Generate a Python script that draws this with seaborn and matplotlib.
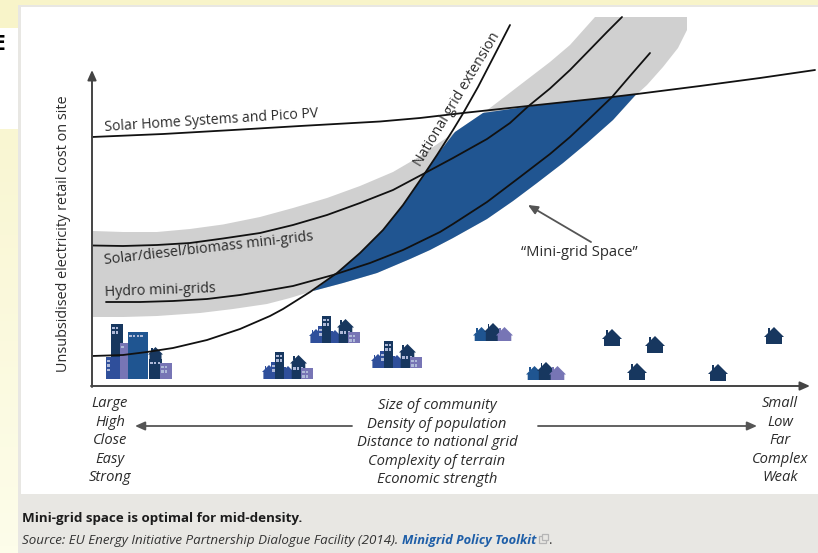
# -*- coding: utf-8 -*-
"""Mini-grid space diagram, all curves read off the picture in pixel units."""

import numpy as np
import pandas as pd
import matplotlib.pyplot as plt
from matplotlib.patches import Polygon, Rectangle
import seaborn as sns

# curves (x, y)
solar_home_x = [92, 163, 233, 300, 380, 420, 463, 528, 570, 612, 637, 700, 760, 815]
solar_home_y = [137, 134, 130, 126, 121.5, 118, 113, 106, 101.5, 97, 94, 86, 78, 70]

diesel_x = [93, 123, 157, 190, 223, 260, 293, 327, 360, 393, 425, 453, 487, 510, 528, 550, 570, 590, 607, 622]
diesel_y = [245.5, 246, 245, 243, 238.5, 233, 225, 215, 203, 190, 173, 158, 139, 123, 106.5, 88.5, 70, 49.5, 32, 17]

hydro_x = [106, 140, 173, 207, 240, 270, 293, 333, 370, 403, 440, 453, 487, 520, 550, 570, 587, 612, 630, 650]
hydro_y = [302, 302, 301, 299, 295, 290, 286, 275, 263, 250, 232, 224, 202, 177, 154, 137, 121, 97, 76, 53]

grid_x = [92, 123, 147, 173, 207, 240, 270, 283, 310, 337, 360, 383, 403, 423, 437, 453, 463, 478, 493, 510]
grid_y = [356, 355, 352, 348, 340, 329, 316, 309, 292, 273, 253, 230, 205, 176, 155, 130, 113.5, 87, 58, 25]

band_x = [93, 123, 157, 190, 223, 260, 293, 327, 360, 393, 417, 455, 483, 490, 520, 550, 570, 595, 687,
          687, 678, 663, 647, 636, 613, 587, 563, 537, 513, 487, 453, 430, 410, 377, 343, 313,
          290, 267, 233, 200, 157, 123, 93]
band_y = [231, 232, 232, 229, 224.5, 217, 208, 198, 186, 172, 158, 132, 113, 108, 85, 62, 45, 17, 17,
          30, 48, 67, 85, 95, 120, 143, 163, 183, 201, 219, 238, 250, 259, 273, 283, 291,
          298, 304, 309, 313, 316, 317, 317]

space_x = [313, 337, 360, 383, 403, 423, 437, 455, 483, 528, 570, 612, 636,
           613, 587, 563, 537, 513, 487, 453, 430, 410, 377, 343]
space_y = [291, 273, 253, 230, 205, 176, 155, 132, 113, 106.5, 101.5, 97, 94.5,
           120, 143, 163, 183, 201, 219, 238, 250, 259, 273, 283]

# axis captions
left_words = ["Large", "High", "Close", "Easy", "Strong"]
middle_words = ["Size of community", "Density of population", "Distance to national grid",
                "Complexity of terrain", "Economic strength"]
right_words = ["Small", "Low", "Far", "Complex", "Weak"]
left_rows = [407, 426, 444, 463, 481]
middle_rows = [409, 428, 446, 465, 483]

# settlements: anchor x, baseline y
single_x = [602, 645, 627, 708, 764]
single_base = [346, 353, 380, 381, 344]
hamlet_x = [473, 526]
hamlet_base = [341, 380]
town_x = [262, 309, 371]
town_base = [379, 343, 368]

NAVY = "#17375f"
BLUE = "#1f5591"
ROYAL = "#2f4f9b"
LILAC = "#7775b5"
TEXT = "#2b2b2b"
WINDOW = "#aeb9d8"


def house(ax, x, base, w, h, color, z=5):
    eave = base - h + w * 0.5
    ax.add_patch(Polygon([(x + w * 0.1, base), (x + w * 0.1, eave), (x, eave),
                          (x + w * 0.5, base - h), (x + w, eave),
                          (x + w * 0.9, eave), (x + w * 0.9, base)],
                         closed=True, fc=color, ec="none", zorder=z))
    ax.add_patch(Rectangle((x + w * 0.2, base - h + 0.5), w * 0.1, w * 0.25, fc=color, ec="none", zorder=z))


def tower(ax, x, base, w, h, color, z=5, win=None):
    ax.add_patch(Rectangle((x, base - h), w, h, fc=color, ec="none", zorder=z))
    if win:
        for row in range(win[0]):
            for col in range(win[1]):
                wx = x + 1.3 + col * 3.6
                wy = base - h + 2.5 + row * 4.5
                ax.add_patch(Rectangle((wx, wy), 2.4, 2.6, fc=WINDOW, ec="none", zorder=z + 0.5))


def town(ax, x, base):
    house(ax, x, base, 14, 14, ROYAL, 5)
    tower(ax, x + 9, base, 8, 17, ROYAL, 6, (2, 1))
    tower(ax, x + 13, base, 9, 27, NAVY, 7, (2, 2))
    house(ax, x + 20, base, 12, 13, ROYAL, 6)
    house(ax, x + 28, base, 17, 24, NAVY, 7)
    tower(ax, x + 30, base - 14, 13, 0.1, NAVY, 7, (1, 3))
    tower(ax, x + 39, base, 12, 11, LILAC, 8, (2, 2))


def big_city(ax):
    tower(ax, 111, 379, 12, 55, NAVY, 5, (2, 2))
    tower(ax, 106, 379, 14, 22, ROYAL, 6, (3, 1))
    tower(ax, 120, 379, 13, 36, LILAC, 6, (1, 1))
    tower(ax, 128, 379, 20, 47, BLUE, 7, (1, 4))
    house(ax, 148, 379, 15, 32, NAVY, 8)
    tower(ax, 149, 379, 13, 20, NAVY, 8, (1, 3))
    tower(ax, 160, 379, 12, 16, LILAC, 9, (2, 2))


def arrow(ax, tail, tip, color="#555555", lw=1.3):
    ax.annotate("", xy=tip, xytext=tail, zorder=12,
                arrowprops=dict(arrowstyle="-|>,head_length=0.45,head_width=0.2",
                                color=color, lw=lw, shrinkA=0, shrinkB=0,
                                mutation_scale=13))


sns.set_theme(style="white")
plt.rcParams["font.family"] = ["Open Sans", "DejaVu Sans"]

fig = plt.figure(figsize=(8.18, 5.53), dpi=100)
ax = fig.add_axes([0, 0, 1, 1])

# page behind the panel
ax.add_patch(Rectangle((0, 0), 818, 6, fc="#f8f4c9", ec="none", zorder=0))
ax.add_patch(Rectangle((0, 0), 18, 28, fc="#f8f4c9", ec="none", zorder=0))
ax.add_patch(Rectangle((0, 28), 18, 101, fc="white", ec="none", zorder=0))
ax.imshow(np.linspace(0, 1, 64)[:, None], extent=(0, 18, 553, 129), aspect="auto", zorder=0,
          cmap=sns.blend_palette(["#f9f6d2", "#fdfdea"], as_cmap=True))
ax.set_xlim(0, 818)
ax.set_ylim(553, 0)
ax.text(-7, 44, "E", fontsize=15, fontweight="bold", color="black", va="center", ha="left")

ax.add_patch(Rectangle((18, 5), 800, 548, fc="#e8e7e3", ec="none", zorder=1))
ax.add_patch(Rectangle((21, 7), 797, 487, fc="white", ec="none", zorder=1))

# bands
ax.fill(band_x, band_y, fc="#d0d0d0", ec="none", zorder=2)
ax.fill(space_x, space_y, fc="#205591", ec="none", zorder=3)

# curves
for xs, ys in [(solar_home_x, solar_home_y), (diesel_x, diesel_y),
               (hydro_x, hydro_y), (grid_x, grid_y)]:
    curve = pd.DataFrame({"x": xs, "y": ys})
    sns.lineplot(data=curve, x="x", y="y", ax=ax, color="#111111", lw=1.3,
                 sort=False, estimator=None, zorder=10)
ax.axis("off")

# settlements
big_city(ax)
for x, base in zip(town_x, town_base):
    town(ax, x, base)
for x, base in zip(hamlet_x, hamlet_base):
    house(ax, x, base, 17, 14, BLUE, 5)
    house(ax, x + 11, base, 18, 18, NAVY, 6)
    house(ax, x + 23, base, 17, 14, LILAC, 7)
for x, base in zip(single_x, single_base):
    house(ax, x, base, 20, 17, NAVY, 5)

# axes of the diagram
arrow(ax, (92, 387), (92, 70), "#444444", 1.4)
arrow(ax, (91, 386), (810, 386), "#444444", 1.4)
arrow(ax, (352, 426), (135, 426))
arrow(ax, (538, 426), (757, 426))
arrow(ax, (591, 242), (528, 205))

# curve labels
ax.text(105, 131, "Solar Home Systems and Pico PV", fontsize=10.1, color=TEXT, rotation=3.7,
        rotation_mode="anchor", va="baseline", ha="left", zorder=13)
ax.text(105, 264, "Solar/diesel/biomass mini-grids", fontsize=10.4, color=TEXT, rotation=6.5,
        rotation_mode="anchor", va="baseline", ha="left", zorder=13)
ax.text(105, 296, "Hydro mini-grids", fontsize=10.3, color=TEXT, rotation=2,
        rotation_mode="anchor", va="baseline", ha="left", zorder=13)
ax.text(421, 167, "National grid extension", fontsize=10.2, color=TEXT, rotation=59,
        rotation_mode="anchor", va="baseline", ha="left", zorder=13)
ax.text(579, 253, "\u201cMini-grid Space\u201d", fontsize=10.6, color=TEXT, va="center", ha="center", zorder=13)
ax.text(64, 234, "Unsubsidised electricity retail cost on site", fontsize=10.4, color=TEXT,
        rotation=90, va="center", ha="center", zorder=13)

# bottom scale words
for word, row in zip(left_words, left_rows):
    ax.text(110, row, word, fontsize=10.6, style="italic", color=TEXT, ha="center", va="baseline")
for word, row in zip(middle_words, middle_rows):
    ax.text(437, row, word, fontsize=10.6, style="italic", color=TEXT, ha="center", va="baseline")
for word, row in zip(right_words, left_rows):
    ax.text(780, row, word, fontsize=10.6, style="italic", color=TEXT, ha="center", va="baseline")

# caption
ax.text(22, 522, "Mini-grid space is optimal for mid-density.", fontsize=9.6, fontweight="bold",
        color="#1c1c1c", va="baseline", ha="left")
ax.text(22, 544, "Source: EU Energy Initiative Partnership Dialogue Facility (2014).", fontsize=9.6,
        style="italic", color="#333333", va="baseline", ha="left")
ax.text(402, 544, "Minigrid Policy Toolkit", fontsize=9.3, style="italic", fontweight="bold",
        color="#1f5fa8", va="baseline", ha="left")
ax.add_patch(Rectangle((539, 536), 7, 7, fc="none", ec="#b5b5b5", lw=0.9, zorder=5))
ax.add_patch(Rectangle((542, 534), 6, 6, fc="#e8e7e3", ec="#b5b5b5", lw=0.9, zorder=6))
ax.text(549, 544, ".", fontsize=9.6, color="#333333", va="baseline", ha="left")

fig.savefig("out.png", dpi=100)
plt.close(fig)
